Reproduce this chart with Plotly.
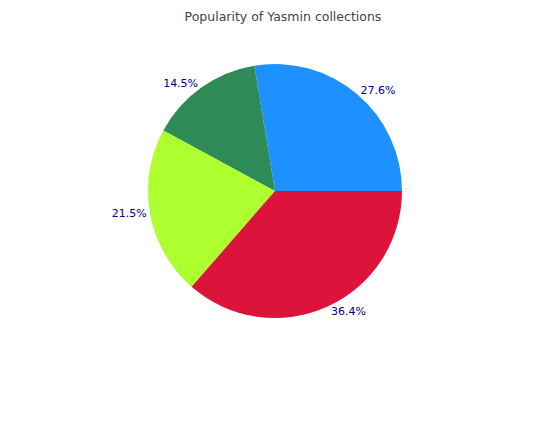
import plotly.graph_objects as go

# Collection shares (percent)
collections = ["Collection A", "Collection B", "Collection C", "Collection D"]
shares = [27.6, 14.5, 21.5, 36.4]
colors = ["dodgerblue", "seagreen", "greenyellow", "crimson"]

fig = go.Figure(
    data=[
        go.Pie(
            labels=collections,
            values=shares,
            sort=False,
            direction="counterclockwise",
            rotation=-9.36,
            marker=dict(colors=colors, line=dict(width=0)),
            textinfo="percent",
            texttemplate="%{value:.1f}%",
            textposition="outside",
            outsidetextfont=dict(color="#000080", size=11),
            showlegend=False,
        )
    ]
)

fig.update_layout(
    width=550,
    height=425,
    title=dict(
        text="Popularity of Yasmin collections",
        x=0.5,
        xanchor="center",
        y=0.99,
        yanchor="top",
        font=dict(size=12.5, color="#444444"),
    ),
    font=dict(family="DejaVu Sans"),
    margin=dict(t=56, b=115, l=140, r=156),
    paper_bgcolor="white",
)

fig.write_html("out.html")
